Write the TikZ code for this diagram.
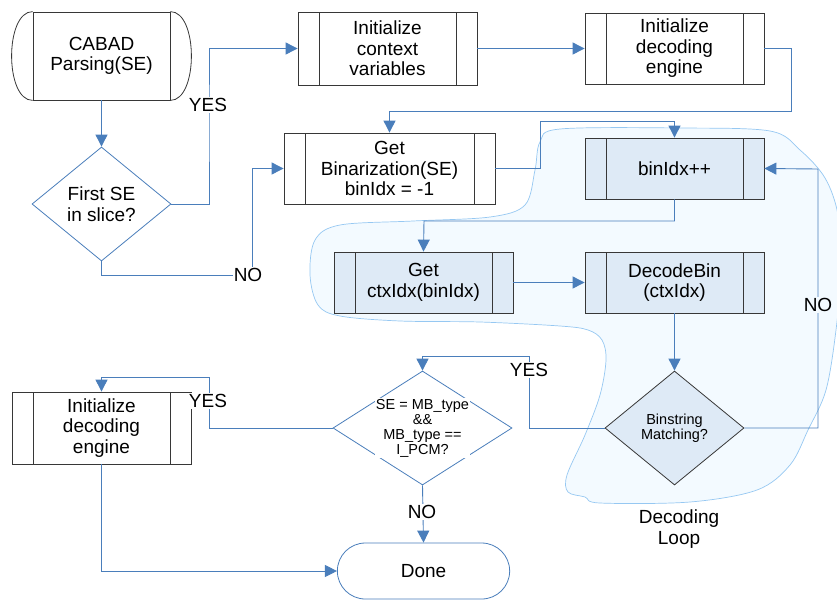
\documentclass[tikz,border=0pt]{standalone}
\usepackage{fontspec}
\setmainfont{Liberation Sans}
\usetikzlibrary{shapes.geometric,shapes.misc,arrows.meta}
\definecolor{flowblue}{RGB}{74,126,187}
\definecolor{boxline}{RGB}{55,55,55}
\definecolor{loopfill}{RGB}{222,234,246}
\definecolor{cloudfill}{RGB}{243,250,255}
\definecolor{cloudline}{RGB}{150,200,242}
\begin{document}
\begin{tikzpicture}[x=1pt, y=-1pt, every node/.style={font=\fontsize{19}{20.5}\selectfont}]
		\tikzstyle{proc}=[rectangle,draw=boxline,line width=0.8pt,fill=white,minimum width=179pt,minimum height=72pt,inner sep=0pt,align=center,
			path picture={\draw[boxline,line width=0.8pt] ([xshift=21pt]path picture bounding box.north west) -- ([xshift=21pt]path picture bounding box.south west);
				\draw[boxline,line width=0.8pt] ([xshift=-21pt]path picture bounding box.north east) -- ([xshift=-21pt]path picture bounding box.south east);}]
		\tikzstyle{loopproc}=[proc,fill=loopfill,minimum height=61pt]
		\tikzstyle{decide}=[diamond,draw=flowblue,line width=0.8pt,fill=white,minimum width=139pt,minimum height=114pt,inner sep=0pt,align=center,aspect=1.22]
		\tikzstyle{flow}=[flowblue,line width=0.9pt]
		\tikzstyle{arr}=[flow,-{Triangle[width=12pt,length=12pt]}]
		\tikzstyle{answer}=[fill=white,inner sep=1pt]
		\useasboundingbox (0,0) rectangle (837,600);
		% decoding loop cloud
		\draw[cloudline,fill=cloudfill,line width=0.7pt] plot[smooth cycle,tension=0.55] coordinates {
			(560,129) (680,128) (770,131) (800,150) (825,178) (838,215) (841,270) (836,330) (826,390)
			(808,430) (790,465) (757,490) (690,502) (600,503) (585,497) (568,492) (567,475) (585,435)
			(600,395) (606,360) (602,340) (588,330) (560,326) (480,322) (400,321) (340,316) (318,305)
			(310,275) (315,240) (340,225) (413,221) (490,217) (525,205) (535,170) (540,142)};
		\node[align=center](loop)at(679,529){Decoding\\Loop};
		% nodes
		\node[rectangle,draw=boxline,line width=0.8pt,minimum width=137pt,minimum height=88pt,align=center](start)at(101.5,56){CABAD\\Parsing(SE)};
		\draw[boxline,line width=0.8pt] (start.north west) .. controls +(-28pt,0pt) and +(-28pt,0pt) .. (start.south west);
		\draw[boxline,line width=0.8pt] (start.north east) .. controls +(28pt,0pt) and +(28pt,0pt) .. (start.south east);
		\node[decide](fse)at(101.5,204){First SE\\in slice?};
		\node[proc,minimum height=73pt](ctx)at(387.5,48.5){Initialize\\context\\variables};
		\node[proc,minimum height=71pt](dec)at(674.5,48.5){Initialize\\decoding\\engine};
		\node[proc,minimum width=211pt,minimum height=71pt](getbin)at(389.5,168.5){Get\\Binarization(SE)\\binIdx = -1};
		\node[loopproc](inc)at(674.5,168.5){binIdx++};
		\node[loopproc](getctx)at(423.5,282.5){Get\\ctxIdx(binIdx)};
		\node[loopproc](decbin)at(674.5,282.5){DecodeBin\\(ctxIdx)};
		\node[decide,draw=boxline,fill=loopfill,font=\fontsize{14.5}{14.5}\selectfont](match)at(674.5,428){Binstring\\Matching?};
		\node[decide,minimum width=179pt,aspect=1.57](mb)at(422.5,428){};
		\node[answer,align=center,font=\fontsize{14.5}{15}\selectfont](mbq)at(422.5,428){SE = MB\_type\\\&\&\\MB\_type ==\\I\_PCM?};
		\node[proc](init)at(101.5,428){Initialize\\decoding\\engine};
		\node[rounded rectangle,draw=flowblue,line width=0.8pt,minimum width=179pt,minimum height=56pt](done)at(423.5,571){Done};
		% connectors
		\draw[arr]{
			(start.south) -- (fse.north)
		};
		\draw[arr]{
			(fse.east) -| (209,120) |- (ctx.west)
		};
		\draw[arr]{
			(fse.south) |- (252,275) |- (getbin.west)
		};
		\draw[arr]{
			(ctx.east) -- (dec.west)
		};
		\draw[arr]{
			(dec.east) -| (791,111) -| (getbin.north)
		};
		\draw[arr]{
			(getbin.east) -| (540,121) -| (inc.north)
		};
		\draw[arr]{
			(inc.south) |- (424,221) -- (getctx.north)
		};
		\draw[arr]{
			(getctx.east) -- (decbin.west)
		};
		\draw[arr]{
			(decbin.south) -- (match.north)
		};
		\draw[arr]{
			(match.east) -| (818,169) -- (inc.east)
		};
		\draw[arr]{
			(match.west) -| (529,356) -| (mb.north)
		};
		\draw[arr]{
			(mb.west) -| (209,377) -| (init.north)
		};
		\draw[arr]{
			(mb.south) -- (done.north)
		};
		\draw[arr]{
			(init.south) |- (done.west)
		};
		% answers
		\node[answer](yes1)at(208,105){YES};
		\node[answer](no1)at(248,275){NO};
		\node[answer](yes2)at(529,370){YES};
		\node[answer,fill=cloudfill](no2)at(818,305){NO};
		\node[answer](yes3)at(208,401){YES};
		\node[answer](no3)at(422,512){NO};
		\end{tikzpicture}
\end{document}
